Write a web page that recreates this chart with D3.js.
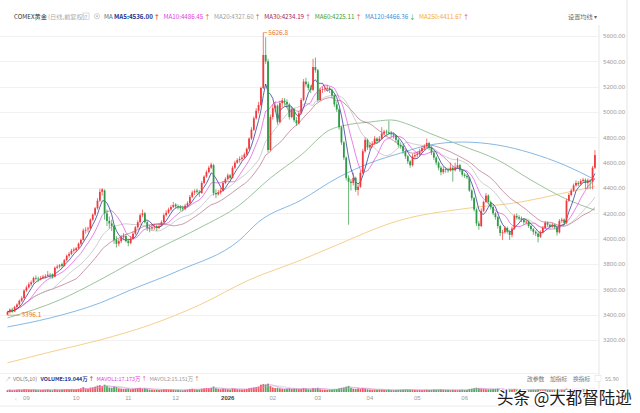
<!DOCTYPE html>
<html>
<head>
<meta charset="utf-8">
<script src="https://cdn.jsdelivr.net/npm/d3@7"></script>
<style>
  body { margin: 0; background: #fff; }
  svg { display: block; font-family: "Noto Sans CJK SC", "Noto Sans", sans-serif; }
</style>
</head>
<body>
<div id="chart"></div>
<script>
// daily candles (price in USD/oz)
const opens = [
  3400,3420,3440,3425,3460,3480,3510,3530,3590,3615,
  3640,3655,3690,3685,3680,3690,3700,3705,3715,3720,
  3700,3770,3780,3800,3785,3830,3865,3880,3905,3910,
  3925,3960,3990,4065,4075,4080,4150,4190,4240,4300,
  4370,4380,4200,4140,4120,4100,3990,3960,3980,4010,
  4020,3980,3965,4000,4040,4090,4130,4185,4200,4130,
  4085,4080,4090,4100,4085,4100,4130,4185,4205,4230,
  4250,4270,4255,4250,4240,4235,4260,4280,4330,4365,
  4380,4370,4360,4440,4490,4525,4560,4580,4360,4350,
  4365,4380,4440,4470,4500,4480,4560,4600,4620,4630,
  4640,4665,4710,4790,4860,4950,5010,5055,5190,5450,
  5400,4700,4960,5030,5050,4920,5070,5090,5080,5060,
  4960,5020,4935,4910,4990,5095,5240,5220,5190,5175,
  5355,5330,5095,5175,5180,5185,5190,5175,5130,5060,
  5020,4880,4760,4640,4480,4450,4440,4480,4385,4410,
  4520,4690,4780,4720,4740,4750,4790,4770,4790,4830,
  4845,4840,4835,4825,4815,4780,4740,4730,4690,4650,
  4610,4580,4650,4660,4670,4690,4715,4730,4755,4720,
  4680,4640,4600,4560,4525,4550,4545,4540,4560,4540,
  4560,4580,4540,4505,4495,4485,4380,4320,4230,4120,
  4100,4220,4290,4340,4290,4250,4200,4170,4100,4045,
  4050,4085,4055,4030,4080,4180,4170,4160,4150,4130,
  4135,4100,4075,4055,4040,4015,4050,4085,4125,4110,
  4095,4110,4090,4050,4140,4150,4125,4300,4345,4380,
  4420,4440,4430,4455,4465,4440,4460,4450,4560
];
const closes = [
  3420,3440,3425,3460,3480,3510,3530,3590,3615,3640,
  3655,3690,3685,3680,3690,3700,3705,3715,3710,3700,
  3770,3780,3790,3785,3830,3865,3880,3905,3915,3925,
  3960,3990,4065,4070,4080,4150,4190,4240,4300,4370,
  4390,4200,4140,4120,4100,3990,3960,3980,4010,4020,
  3980,3965,4000,4040,4090,4130,4185,4200,4130,4085,
  4080,4090,4095,4085,4100,4130,4185,4205,4230,4250,
  4265,4255,4250,4240,4235,4260,4280,4330,4365,4375,
  4370,4360,4440,4490,4525,4560,4585,4360,4350,4365,
  4380,4440,4470,4500,4480,4560,4600,4620,4630,4640,
  4665,4710,4790,4860,4950,5010,5055,5190,5450,5400,
  4700,4960,5030,5050,4920,5070,5090,5080,5060,4960,
  5020,4935,4910,4990,5095,5240,5220,5190,5175,5355,
  5330,5095,5175,5180,5185,5190,5175,5130,5060,5020,
  4880,4760,4640,4480,4450,4440,4480,4385,4410,4520,
  4690,4780,4720,4740,4750,4790,4770,4790,4830,4845,
  4840,4835,4825,4815,4780,4740,4730,4690,4650,4610,
  4580,4650,4660,4670,4690,4715,4730,4755,4720,4680,
  4640,4600,4560,4525,4550,4545,4540,4560,4540,4560,
  4580,4540,4505,4495,4485,4380,4320,4230,4120,4100,
  4220,4290,4340,4290,4250,4200,4170,4100,4045,4050,
  4085,4055,4030,4080,4180,4170,4160,4150,4130,4135,
  4100,4075,4055,4040,4015,4050,4085,4125,4110,4095,
  4110,4090,4050,4140,4150,4125,4300,4345,4380,4420,
  4440,4430,4455,4465,4440,4460,4450,4560,4660
];
const highs = [
  3430,3450,3455,3470,3490,3520,3545,3600,3630,3655,
  3670,3700,3710,3700,3705,3715,3720,3745,3730,3725,
  3780,3795,3800,3810,3840,3875,3895,3920,3930,3935,
  3970,4000,4080,4090,4095,4160,4200,4250,4320,4395,
  4398,4390,4230,4175,4150,4110,4020,4000,4030,4045,
  4035,4000,4020,4055,4100,4145,4200,4230,4210,4140,
  4110,4115,4120,4110,4120,4145,4200,4225,4245,4265,
  4290,4280,4270,4265,4260,4275,4295,4345,4380,4390,
  4395,4385,4455,4500,4540,4575,4600,4590,4390,4385,
  4400,4455,4485,4515,4510,4575,4615,4635,4650,4660,
  4680,4720,4800,4880,4965,5030,5080,5200,5626.8,5590,
  5420,4980,5060,5080,5060,5090,5110,5110,5100,5070,
  5040,5030,4960,5010,5110,5260,5270,5240,5210,5420,
  5430,5340,5190,5200,5210,5215,5200,5185,5140,5080,
  5030,4890,4770,4650,4500,4470,4520,4490,4430,4540,
  4710,4800,4790,4760,4770,4810,4800,4810,4880,4860,
  4860,4930,4850,4840,4820,4790,4760,4740,4700,4660,
  4620,4670,4680,4690,4710,4730,4745,4790,4765,4730,
  4690,4650,4610,4575,4570,4565,4560,4600,4575,4600,
  4640,4590,4550,4520,4510,4490,4390,4330,4240,4140,
  4240,4300,4360,4350,4300,4260,4210,4180,4110,4070,
  4100,4095,4070,4095,4195,4200,4185,4175,4160,4150,
  4145,4110,4085,4065,4050,4065,4100,4140,4135,4120,
  4125,4115,4095,4155,4165,4160,4315,4360,4395,4435,
  4460,4455,4470,4480,4475,4475,4470,4575,4700
];
const lows = [
  3396.1,3410,3415,3420,3450,3470,3500,3525,3580,3605,
  3625,3645,3670,3660,3670,3680,3685,3700,3690,3685,
  3695,3760,3765,3770,3780,3820,3850,3870,3890,3895,
  3915,3950,3985,4040,4050,4075,4140,4180,4230,4290,
  4340,4150,4100,4080,4060,3960,3930,3940,3965,3990,
  3970,3940,3955,3990,4030,4080,4120,4170,4120,4060,
  4050,4065,4070,4060,4075,4095,4120,4175,4195,4220,
  4240,4240,4230,4220,4215,4225,4250,4270,4320,4345,
  4350,4330,4355,4430,4480,4515,4550,4340,4320,4340,
  4350,4370,4430,4460,4465,4475,4550,4590,4600,4615,
  4630,4655,4700,4780,4850,4940,4990,5045,5180,5380,
  4680,4690,4940,5000,4900,4910,5040,5050,5030,4940,
  4950,4920,4890,4900,4980,5085,5200,5170,5150,5165,
  5310,5080,5085,5150,5160,5165,5150,5110,5040,5000,
  4860,4740,4620,4460,4110,4380,4420,4370,4340,4400,
  4510,4680,4700,4700,4720,4740,4750,4760,4780,4815,
  4820,4820,4800,4790,4760,4720,4710,4670,4630,4590,
  4560,4570,4630,4640,4650,4680,4700,4720,4700,4660,
  4620,4580,4540,4500,4510,4520,4520,4530,4450,4530,
  4550,4525,4490,4480,4470,4370,4300,4215,4100,4070,
  4090,4210,4280,4270,4230,4185,4150,4080,4020,3990,
  4040,4040,3990,4010,4070,4150,4145,4130,4110,4115,
  4085,4060,4030,4020,3970,4005,4040,4075,4095,4080,
  4085,4075,4025,4040,4125,4110,4115,4290,4335,4370,
  4410,4415,4420,4440,4390,4390,4390,4390,4550
];
// volume, in 万 (10k lots)
const volumes = [
  12,14,11,13,15,16,14,18,17,15,
  14,16,13,12,13,14,15,17,13,12,
  18,15,14,16,17,19,16,18,15,17,
  20,24,32,22,20,28,30,35,42,45,
  38,48,40,30,28,35,32,24,22,20,
  20,22,18,21,24,26,28,22,25,20,
  16,15,14,14,13,15,18,17,16,15,
  14,12,13,12,11,14,16,20,22,18,
  15,16,22,24,26,25,28,36,25,20,
  18,22,20,18,16,24,22,18,17,16,
  18,20,25,28,30,32,36,48,52,50,
  55,40,30,26,28,24,22,20,22,24,
  20,22,21,19,20,26,22,18,17,26,
  24,28,18,16,15,14,15,16,18,20,
  24,28,30,35,40,28,22,20,24,22,
  26,22,18,16,15,16,14,15,16,14,
  13,15,12,12,13,14,15,16,17,16,
  15,14,13,12,13,12,14,15,13,14,
  16,15,16,17,14,13,13,12,14,13,
  12,14,15,13,14,20,22,25,28,24,
  22,20,18,17,18,19,20,22,21,18,
  16,15,17,16,20,15,14,13,13,12,
  14,15,16,14,18,15,16,15,14,13,
  13,14,16,15,14,13,22,20,19,18,
  17,16,16,17,19,18,17,20,19.044
];

// long averages at a few candles
const ma60Idx  = [0, 22, 39, 52, 64, 81, 98, 111, 124, 136, 143, 153, 162, 170, 178, 191, 207, 221, 235, 248];
const ma60Val  = [3374, 3516, 3674, 3808, 3926, 4084, 4266, 4479, 4661, 4858, 4897, 4921, 4937, 4897, 4834, 4739, 4621, 4463, 4321, 4225];
const ma120Idx = [0, 18, 39, 52, 73, 98, 106, 124, 140, 153, 166, 178, 192, 207, 221, 235, 248];
const ma120Val = [3303, 3374, 3492, 3595, 3753, 3989, 4132, 4305, 4487, 4597, 4676, 4739, 4763, 4739, 4676, 4582, 4466];
const ma250Idx = [0, 18, 39, 60, 81, 102, 124, 136, 166, 195, 217, 233, 248];
const ma250Val = [3020, 3105, 3200, 3318, 3476, 3674, 3832, 3926, 4147, 4242, 4290, 4353, 4411];

// legend texts
const maNames  = ["MA5", "MA10", "MA20", "MA30", "MA60", "MA120", "MA250"];
const maValues = ["4536.00", "4486.45", "4327.60", "4234.19", "4225.11", "4466.36", "4411.67"];
const maTrend  = ["↑", "↑", "↑", "↑", "↑", "↓", "↑"];
const volNames  = ["VOLUME", "MAVOL1", "MAVOL2"];
const volValues = ["19.044万", "17.173万", "15.151万"];

// axis ticks
const yTicks = [3200, 3400, 3600, 3800, 4000, 4200, 4400, 4600, 4800, 5000, 5200, 5400, 5600];
const monthIdx = [8, 29, 51, 71, 93, 112, 131, 153, 173, 193];
const monthLabels = ["09", "10", "11", "12", "2026", "02", "03", "04", "05", "06"];

const FRAME_WIDTH = 640;
const FRAME_HEIGHT = 413;
const PLOT_RIGHT = 599;

const UP = "#f0393c";
const DOWN = "#2f9a46";
const MA_COLORS = ["#2b3690", "#e043e0", "#b8b8b8", "#b06680", "#9cc49c", "#86b8e6", "#f6d08c"];
const LEGEND_COLORS = ["#27318a", "#e03ce0", "#a0a0a0", "#a3234e", "#3ca03c", "#3b8fe0", "#f3a93a"];

const FRAME = d3.select("#chart")
  .append("svg")
    .attr("width", FRAME_WIDTH)
    .attr("height", FRAME_HEIGHT);

const N = closes.length;
const X_SCALE = d3.scaleBand()
  .domain(d3.range(N))
  .range([6, 596.4])
  .padding(0.25);
const xc = (i) => X_SCALE(i) + X_SCALE.bandwidth() / 2;

const Y_SCALE = d3.scaleLinear()
  .domain([3200, 5600])
  .range([340, 36]);

const V_SCALE = d3.scaleLinear()
  .domain([0, 55.9])
  .range([392, 383.5]);

// frame edges
FRAME.append("line").attr("x1", 627).attr("x2", 627).attr("y1", 0).attr("y2", 406)
  .attr("stroke", "#e4e4e4");
FRAME.append("line").attr("x1", 0).attr("x2", 627).attr("y1", 406).attr("y2", 406)
  .attr("stroke", "#ececec");
FRAME.append("line").attr("x1", PLOT_RIGHT).attr("x2", PLOT_RIGHT).attr("y1", 25).attr("y2", 406)
  .attr("stroke", "#e6e6e6");
FRAME.append("line").attr("x1", 0).attr("x2", PLOT_RIGHT).attr("y1", 373.5).attr("y2", 373.5)
  .attr("stroke", "#f0f0f0");

// grid
FRAME.append("g").selectAll("line")
  .data(yTicks)
  .enter()
  .append("line")
    .attr("x1", 0).attr("x2", PLOT_RIGHT)
    .attr("y1", (d) => Math.round(Y_SCALE(d)) + 0.5)
    .attr("y2", (d) => Math.round(Y_SCALE(d)) + 0.5)
    .attr("stroke", "#f1f1f1");

// right price axis
const yAxis = FRAME.append("g")
  .attr("transform", "translate(603,0)")
  .call(d3.axisRight(Y_SCALE).tickValues(yTicks).tickSize(0).tickPadding(0)
    .tickFormat(d3.format(".2f")));
yAxis.select(".domain").remove();
yAxis.selectAll("text")
  .attr("font-size", "6px")
  .attr("fill", "#9a9a9a")
  .attr("font-family", "'Noto Sans', sans-serif");

// clip for the price area
FRAME.append("clipPath").attr("id", "priceClip")
  .append("rect").attr("x", 0).attr("y", 25).attr("width", PLOT_RIGHT).attr("height", 347);
const PRICE = FRAME.append("g").attr("clip-path", "url(#priceClip)");

// moving averages
function movingAvg(arr, n) {
  return arr.map((d, i) => d3.mean(arr.slice(Math.max(0, i - n + 1), i + 1)));
}
const lineIdx = d3.line()
  .x((d, i) => xc(i))
  .y((d) => Y_SCALE(d));
const lineSampled = d3.line()
  .x((d) => xc(d[0]))
  .y((d) => Y_SCALE(d[1]))
  .curve(d3.curveMonotoneX);

const sampled = [
  {pts: d3.zip(ma250Idx, ma250Val), color: MA_COLORS[6]},
  {pts: d3.zip(ma120Idx, ma120Val), color: MA_COLORS[5]},
  {pts: d3.zip(ma60Idx, ma60Val), color: MA_COLORS[4]}
];
sampled.forEach((s) => {
  PRICE.append("path")
    .attr("d", lineSampled(s.pts))
    .attr("fill", "none")
    .attr("stroke", s.color)
    .attr("stroke-width", 1);
});

[[30, 3], [20, 2], [10, 1], [5, 0]].forEach(([n, c]) => {
  PRICE.append("path")
    .attr("d", lineIdx(movingAvg(closes, n)))
    .attr("fill", "none")
    .attr("stroke", MA_COLORS[c])
    .attr("stroke-width", 0.9)
    .attr("opacity", c === 0 ? 0.85 : 0.75);
});

// candles
const candles = d3.range(N).map((i) => ({
  i: i, o: opens[i], h: highs[i], l: lows[i], c: closes[i]
}));
const cg = PRICE.append("g");
cg.selectAll("line")
  .data(candles)
  .enter()
  .append("line")
    .attr("x1", (d) => xc(d.i)).attr("x2", (d) => xc(d.i))
    .attr("y1", (d) => Y_SCALE(d.h)).attr("y2", (d) => Y_SCALE(d.l))
    .attr("stroke", (d) => d.c >= d.o ? UP : DOWN)
    .attr("stroke-width", 0.7);
cg.selectAll("rect")
  .data(candles)
  .enter()
  .append("rect")
    .attr("x", (d) => X_SCALE(d.i))
    .attr("width", X_SCALE.bandwidth())
    .attr("y", (d) => Y_SCALE(Math.max(d.o, d.c)))
    .attr("height", (d) => Math.max(0.8, Math.abs(Y_SCALE(d.o) - Y_SCALE(d.c))))
    .attr("fill", (d) => d.c >= d.o ? UP : DOWN);

// high / low marks
const hiIdx = d3.maxIndex(highs);
const loIdx = d3.minIndex(lows);
[[hiIdx, highs[hiIdx]], [loIdx, lows[loIdx]]].forEach(([i, v]) => {
  const yy = Y_SCALE(v);
  FRAME.append("line")
    .attr("x1", xc(i)).attr("x2", xc(i) + (i === hiIdx ? 4 : 12))
    .attr("y1", yy).attr("y2", yy)
    .attr("stroke", "#e8823a").attr("stroke-width", 0.7);
  FRAME.append("text")
    .attr("x", xc(i) + (i === hiIdx ? 5 : 14))
    .attr("y", yy + 2.2)
    .attr("font-size", "6.5px")
    .attr("fill", "#e8782c")
    .text(d3.format(".1f")(v));
});

// volume bars
FRAME.append("g").selectAll("rect")
  .data(candles)
  .enter()
  .append("rect")
    .attr("x", (d) => X_SCALE(d.i))
    .attr("width", X_SCALE.bandwidth())
    .attr("y", (d) => V_SCALE(volumes[d.i]))
    .attr("height", (d) => 392 - V_SCALE(volumes[d.i]))
    .attr("fill", (d) => d.c >= d.o ? UP : DOWN)
    .attr("opacity", 0.85);

const vLine = d3.line().x((d, i) => xc(i)).y((d) => V_SCALE(d));
[[10, "#bbbbbb"], [5, "#e66be6"]].forEach(([n, col]) => {
  FRAME.append("path")
    .attr("d", vLine(movingAvg(volumes, n)))
    .attr("fill", "none")
    .attr("stroke", col)
    .attr("stroke-width", 0.6)
    .attr("opacity", 0.8);
});

// x axis (months)
const xAxis = FRAME.append("g")
  .attr("transform", "translate(0,393)")
  .call(d3.axisBottom(X_SCALE).tickValues(monthIdx).tickSize(0).tickPadding(3)
    .tickFormat((d) => monthLabels[monthIdx.indexOf(d)]));
xAxis.select(".domain").remove();
xAxis.selectAll("text")
  .attr("font-size", "6px")
  .attr("fill", (d) => monthLabels[monthIdx.indexOf(d)] === "2026" ? "#444" : "#999")
  .attr("font-weight", (d) => monthLabels[monthIdx.indexOf(d)] === "2026" ? "bold" : "normal");
FRAME.append("text").attr("x", 15).attr("y", 401).attr("font-size", "6px")
  .attr("fill", "#bbb").text("‹");

// lay out a row of legend items one after another
function flowRow(items, x0, y, size, gap) {
  let x = x0;
  items.forEach((it) => {
    const t = FRAME.append("text")
      .attr("x", x).attr("y", y)
      .attr("font-size", size + "px")
      .attr("fill", it.color)
      .attr("font-weight", it.bold ? "bold" : "normal");
    t.append("tspan").text(it.text);
    if (it.arrow) {
      t.append("tspan").attr("dx", 1)
        .attr("fill", it.arrow === "↑" ? "#e84040" : "#2f9a46")
        .text(it.arrow);
    }
    x += t.node().getComputedTextLength() + gap;
  });
}

// top legend
const TOP_Y = 18.5;
FRAME.append("text").attr("x", 14).attr("y", TOP_Y).attr("font-size", "6.2px")
  .attr("fill", "#333").text("COMEX黄金");
FRAME.append("text").attr("x", 48).attr("y", TOP_Y).attr("font-size", "6.2px")
  .attr("fill", "#aaa").text("(日线,前复权)");
FRAME.append("rect").attr("x", 83).attr("y", 13).attr("width", 6).attr("height", 6.5)
  .attr("fill", "none").attr("stroke", "#bbb").attr("stroke-width", 0.5);
FRAME.append("text").attr("x", 86).attr("y", TOP_Y).attr("font-size", "5px")
  .attr("text-anchor", "middle").attr("fill", "#999").text("?");
FRAME.append("circle").attr("cx", 97).attr("cy", 16.2).attr("r", 2.6)
  .attr("fill", "none").attr("stroke", "#bbb").attr("stroke-width", 0.7);
FRAME.append("circle").attr("cx", 97).attr("cy", 16.2).attr("r", 0.9).attr("fill", "#bbb");
FRAME.append("text").attr("x", 104).attr("y", TOP_Y).attr("font-size", "6.2px")
  .attr("fill", "#666").text("MA");

flowRow(maNames.map((name, k) => ({
  text: name + ":" + maValues[k], color: LEGEND_COLORS[k], bold: k === 0, arrow: maTrend[k]
})), 114, TOP_Y, 6.2, 4.5);

FRAME.append("text").attr("x", 568).attr("y", TOP_Y).attr("font-size", "6.2px")
  .attr("fill", "#666").text("设置均线 ▾");

// volume legend
const VOL_Y = 380.5;
FRAME.append("text").attr("x", 5).attr("y", VOL_Y).attr("font-size", "6px")
  .attr("fill", "#bbb").text("↗");
const volColors = ["#27318a", "#e03ce0", "#999"];
flowRow([{text: "VOL(5,10)", color: "#777"}].concat(volNames.map((name, k) => ({
  text: name + ":" + volValues[k], color: volColors[k], bold: k === 0, arrow: "↑"
}))), 13, VOL_Y, 5.4, 3.5);

[["改参数", 527], ["加指标", 550], ["换指标", 573]].forEach(([s, x]) => {
  FRAME.append("text").attr("x", x).attr("y", VOL_Y).attr("font-size", "5.8px")
    .attr("fill", "#777").text(s);
});
FRAME.append("rect").attr("x", 595).attr("y", 375.5).attr("width", 6).attr("height", 6)
  .attr("fill", "#fff").attr("stroke", "#ddd").attr("stroke-width", 0.5);
FRAME.append("text").attr("x", 605).attr("y", 381).attr("font-size", "5.5px")
  .attr("fill", "#999").text("55.90");

// watermark
FRAME.append("text")
  .attr("x", 497).attr("y", 403.5)
  .attr("font-size", "16.5px")
  .attr("fill", "#1c1c1c")
  .attr("stroke", "#fff").attr("stroke-width", 2.5)
  .attr("paint-order", "stroke")
  .text("头条 @大都督陆逊");
</script>
</body>
</html>
